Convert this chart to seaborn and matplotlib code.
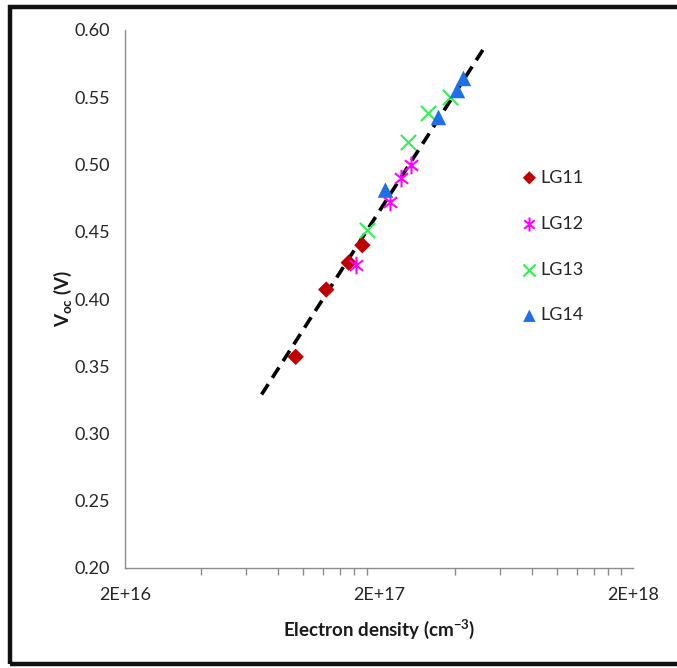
import numpy as np
import pandas as pd
import matplotlib
matplotlib.use("Agg")
import matplotlib.pyplot as plt
from matplotlib.path import Path
from matplotlib.patches import Rectangle
from matplotlib.ticker import FixedLocator, NullFormatter
import seaborn as sns

# ---- data ----
lg11_x = [9.4e16, 1.24e17, 1.52e17, 1.72e17]
lg11_y = [0.357, 0.407, 0.427, 0.440]
lg12_x = [1.63e17, 2.20e17, 2.45e17, 2.68e17]
lg12_y = [0.425, 0.472, 0.490, 0.500]
lg13_x = [1.79e17, 2.61e17, 3.13e17, 3.82e17]
lg13_y = [0.451, 0.517, 0.538, 0.550]
lg14_x = [2.12e17, 3.43e17, 4.07e17, 4.30e17]
lg14_y = [0.481, 0.535, 0.555, 0.564]
fit_x = [6.9e16, 5.2e17]
fit_y = [0.329, 0.587]
series_names = ["LG11", "LG12", "LG13", "LG14"]
x_ticks = [2e16, 2e17, 2e18]
x_tick_labels = ["2E+16", "2E+17", "2E+18"]
y_ticks = [0.20, 0.25, 0.30, 0.35, 0.40, 0.45, 0.50, 0.55, 0.60]

df = pd.DataFrame({
    "x": lg11_x + lg12_x + lg13_x + lg14_x,
    "y": lg11_y + lg12_y + lg13_y + lg14_y,
    "series": ["LG11"] * 4 + ["LG12"] * 4 + ["LG13"] * 4 + ["LG14"] * 4,
})

sns.set_theme(style="white")
plt.rcParams["font.family"] = ["Lato", "DejaVu Sans"]
plt.rcParams["mathtext.fontset"] = "custom"
plt.rcParams["mathtext.rm"] = "Lato"
plt.rcParams["mathtext.bf"] = "Lato:bold"
plt.rcParams["mathtext.it"] = "Lato:italic"

fig = plt.figure(figsize=(6.77, 6.68), dpi=100)
ax = fig.add_axes([125 / 677, 1 - 568 / 668, (633 - 125) / 677, (568 - 30) / 668])

# asterisk marker: vertical line + X
star_verts = [(0, -1), (0, 1), (-0.75, -0.6), (0.75, 0.6), (-0.75, 0.6), (0.75, -0.6)]
star_codes = [Path.MOVETO, Path.LINETO] * 3
star = Path(star_verts, star_codes)

palette = {"LG11": "#C00000", "LG12": "#FF00FF", "LG13": "#33EE55", "LG14": "#1F6FE6"}
markers = {"LG11": "D", "LG12": star, "LG13": "x", "LG14": "^"}
sizes = {"LG11": 70, "LG12": 160, "LG13": 120, "LG14": 125}

sns.lineplot(x=fit_x, y=fit_y, ax=ax, color="black", linewidth=2.6,
             linestyle=(0, (3.4, 2.1)), zorder=1)

for name in series_names:
    sub = df[df["series"] == name]
    lined = name in ("LG12", "LG13")
    sns.scatterplot(data=sub, x="x", y="y", ax=ax, color=palette[name],
                    marker=markers[name], s=sizes[name], linewidth=1.5 if lined else 0,
                    edgecolor=palette[name] if lined else "none",
                    label=name, zorder=3)

ax.set_xscale("log")
ax.set_xlim(2e16, 2e18)
ax.set_ylim(0.20, 0.60)
ax.xaxis.set_major_locator(FixedLocator(x_ticks))
ax.set_xticklabels(x_tick_labels)
minor = [2e16 * k for k in range(2, 10)] + [2e17 * k for k in range(2, 10)]
ax.xaxis.set_minor_locator(FixedLocator(minor))
ax.xaxis.set_minor_formatter(NullFormatter())
ax.set_yticks(y_ticks)
ax.set_yticklabels([f"{v:.2f}" for v in y_ticks])

for side in ("top", "right"):
    ax.spines[side].set_visible(False)
for side in ("left", "bottom"):
    ax.spines[side].set_color("#8c8c8c")
    ax.spines[side].set_linewidth(1.0)

ax.tick_params(axis="both", which="both", direction="out", color="#8c8c8c",
               labelcolor="#262626", labelsize=13)
ax.tick_params(axis="y", which="major", length=5, width=1, pad=6)
ax.tick_params(axis="x", which="major", length=5, width=1, pad=9)
ax.tick_params(axis="x", which="minor", length=5, width=1, bottom=True)

ax.set_xlabel("Electron density (cm$^{\\mathbf{-3}}$)", fontsize=13.5, fontweight="bold",
              color="#1a1a1a", labelpad=10)
ax.set_ylabel(r"V$_{\mathbf{oc}}$ (V)", fontsize=13.5, fontweight="bold",
              color="#1a1a1a", labelpad=0)

leg = ax.legend(loc="upper left", bbox_to_anchor=(0.764, 0.754), frameon=False,
                fontsize=13, labelspacing=1.66, handletextpad=0.1,
                handlelength=1.0, markerscale=0.8, borderaxespad=0)
for t in leg.get_texts():
    t.set_color("#262626")

# outer frame of the chart area
fig.patches.append(Rectangle((10 / 677, 4 / 668), 1.2, 657 / 668,
                             transform=fig.transFigure, fill=False,
                             edgecolor="#111111", linewidth=3.2, zorder=10))

fig.savefig("out.png", dpi=100)
